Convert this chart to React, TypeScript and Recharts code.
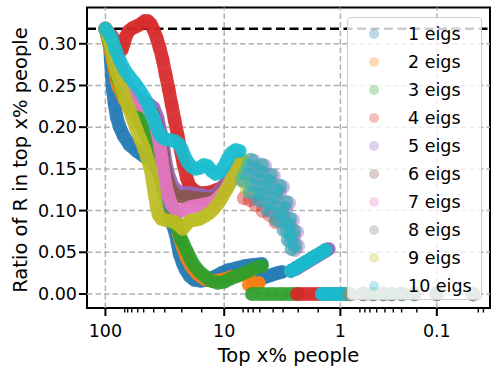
import React from 'react';
import { ScatterChart, Scatter, XAxis, YAxis, ReferenceLine, ReferenceArea } from 'recharts';

type Pt = [number, number]; // [top x% people, ratio of R]

const FONT = '"DejaVu Sans", Verdana, sans-serif';

// x axis: -log10(pct + X_SHIFT), matches the uneven decade spacing of the original
const X_SHIFT = 0.065;
const X_DOMAIN = [-2.155, 1.229];
const X_MAJOR = [100, 10, 1, 0.1];
const X_MAJOR_LABELS = ['100', '10', '1', '0.1'];
const X_MINOR = [
  68.8, 65, 60.1, 53.5, 47.7, 39.3, 31.7, 22.8, 15.5,
  6.92, 6.27, 5.69, 4.99, 3.84, 3.16, 2.34, 1.57,
  0.665, 0.598, 0.537, 0.463, 0.385, 0.318, 0.261, 0.178,
  0.009, 0.002,
];
const Y_DOMAIN = [-0.0168, 0.3435];
const Y_TICKS = [0, 0.05, 0.1, 0.15, 0.2, 0.25, 0.3];
const REF_RATIO = 0.318;

// 1 eigs
const BLUE_MAIN: Pt[] = [[100,0.318],[92.0,0.2986],[90.3,0.2806],[88.6,0.2626],[86.9,0.2446],[83.6,0.2266],[80.4,0.212],[75.9,0.2002],[70.2,0.1894],[62.5,0.1787],[54.6,0.1715],[47.7,0.1655],[41.6,0.1595],[37.1,0.151],[34.3,0.139],[32.4,0.1247],[30.5,0.109],[28.8,0.0947],[27.2,0.0827],[25.7,0.072],[24.7,0.06],[23.8,0.048],[22.4,0.0372],[21.1,0.0288],[19.6,0.0216],[17.8,0.0168],[15.8,0.0156],[13.8,0.0168],[12.1,0.0204],[10.5,0.0252],[9.2,0.0288],[7.8,0.0312],[6.7,0.0336],[5.72,0.0348],[4.8,0.036]];
const BLUE_LOW: Pt[] = [[5.61,0.0156],[4.99,0.018],[4.44,0.0204],[3.95,0.0228],[3.51,0.0252],[3.24,0.0264]];

// 2 eigs
const ORANGE_MAIN: Pt[] = [[100,0.318],[86.9,0.2806],[78.9,0.2506],[68.9,0.2326],[59.0,0.218],[50.5,0.2026],[44.1,0.187],[38.5,0.1727],[34.3,0.157],[31.1,0.1367],[28.2,0.1127],[26.2,0.0911],[24.2,0.072],[22.4,0.0564],[20.7,0.0432],[18.8,0.0324],[16.8,0.024],[14.6,0.018],[12.5,0.0156],[10.5,0.0168],[8.7,0.0204],[7.1,0.0228],[6.07,0.0252]];
const ORANGE_LOW: Pt[] = [[6.18,0.0108],[5.61,0.012],[5.09,0.0132]];

// 3 eigs
const GREEN_MAIN: Pt[] = [[100,0.318],[86.9,0.2866],[78.9,0.259],[70.2,0.2386],[62.5,0.2266],[55.7,0.218],[51.5,0.2086],[46.8,0.194],[42.5,0.181],[38.5,0.169],[35.0,0.157],[31.7,0.139],[28.8,0.1187],[26.7,0.098],[25.2,0.0815],[23.3,0.0671],[22.4,0.0624],[20.7,0.0516],[19.2,0.042],[17.8,0.0336],[16.1,0.0264],[14.3,0.0204],[12.8,0.0156],[11.35,0.0132],[10.0,0.0144],[9.0,0.018],[7.8,0.0216],[6.8,0.0252],[5.95,0.0288],[5.19,0.0324],[4.8,0.0336]];
const GREEN_ZERO: Pt[] = [[5.83,0],[4.8,0],[3.95,0],[3.24,0],[2.71,0],[2.36,0]];

// 4 eigs
const RED_MAIN: Pt[] = [[100,0.318],[88.6,0.3094],[82.0,0.302],[75.9,0.296],[73.0,0.2926],[70.2,0.2998],[67.6,0.308],[63.7,0.3153],[59.0,0.319],[54.6,0.321],[50.5,0.3237],[46.8,0.3273],[44.1,0.3273],[41.6,0.3237],[39.3,0.3165],[37.1,0.307],[35.0,0.295],[33.0,0.2806],[31.1,0.2626],[29.3,0.2446],[27.7,0.2266],[26.2,0.2086],[24.7,0.1906],[23.3,0.1727],[22.0,0.1547],[20.7,0.139],[19.6,0.1295],[18.1,0.1247],[16.45,0.121],[14.6,0.121],[13.05,0.1223],[11.6,0.1247],[10.3,0.1283],[9.2,0.1331],[8.35,0.1391],[7.7,0.1463]];
const RED_DOTS: Pt[] = [[6.8,0.115],[6.07,0.1127],[5.39,0.1067],[4.71,0.0995],[4.1,0.0947],[3.65,0.0863]];
const RED_ZERO: Pt[] = [[2.4,0],[2.09,0],[1.82,0],[1.58,0],[1.43,0]];

// 5 eigs
const PURPLE_MAIN: Pt[] = [[100,0.318],[86.9,0.2986],[78.9,0.2794],[70.2,0.2602],[62.5,0.2446],[55.7,0.235],[49.6,0.2314],[44.1,0.229],[39.3,0.223],[36.4,0.211],[34.3,0.194],[32.4,0.175],[31.1,0.157],[29.3,0.1415],[27.2,0.1295],[24.7,0.1235],[22.0,0.1211],[19.6,0.1211],[17.45,0.12],[15.5,0.1187],[13.8,0.117],[12.5,0.1175],[11.35,0.1211],[10.3,0.1283],[9.35,0.1367],[8.5,0.1463],[7.7,0.1547]];
const PURPLE_LADDER: Pt[] = [[6.7,0.1355],[6.3,0.1439],[5.95,0.1523],[5.61,0.1595],[5.72,0.1211],[5.39,0.1295],[5.09,0.1379],[4.8,0.1463],[4.52,0.1535],[4.8,0.1115],[4.52,0.1187],[4.27,0.1271],[4.02,0.1343],[3.8,0.1415],[4.02,0.0995],[3.8,0.1067],[3.58,0.1151],[3.37,0.1223],[3.17,0.1283],[3.37,0.0875],[3.17,0.0947],[2.99,0.1019],[2.82,0.1091],[2.93,0.0755],[2.76,0.0827],[2.6,0.0887],[2.71,0.0635],[2.55,0.0695],[2.4,0.0743],[2.5,0.0528],[2.36,0.0576]];
const PURPLE_LOW: Pt[] = [[2.45,0.03],[2.01,0.0372],[1.65,0.0444],[1.35,0.0516],[1.27,0.054]];

// 6 eigs
const BROWN_MAIN: Pt[] = [[100,0.318],[86.9,0.2974],[78.9,0.277],[70.2,0.2566],[62.5,0.241],[55.7,0.2314],[49.6,0.2278],[44.1,0.2242],[40.1,0.217],[37.1,0.2038],[35.0,0.187],[33.0,0.169],[31.7,0.151],[29.9,0.1355],[27.7,0.1235],[25.2,0.1175],[22.4,0.1163],[19.9,0.1163],[17.8,0.1151],[15.8,0.114],[14.1,0.114],[12.8,0.1127],[11.6,0.1163],[10.5,0.1223],[9.5,0.1307],[8.7,0.1403],[7.8,0.1499],[7.25,0.1583]];

// 7 eigs
const PINK_MAIN: Pt[] = [[100,0.318],[86.9,0.2986],[78.9,0.2782],[70.2,0.259],[62.5,0.2422],[56.8,0.2326],[51.5,0.2278],[46.8,0.2254],[42.5,0.2206],[39.3,0.211],[37.1,0.1966],[35.0,0.1799],[33.7,0.163],[32.4,0.1463],[31.1,0.1307],[29.3,0.1163],[27.7,0.1067],[25.7,0.1007],[23.3,0.0995],[21.1,0.1019],[19.2,0.1043],[17.45,0.1055],[15.8,0.1067],[14.3,0.1079],[13.05,0.109],[11.8,0.1127],[10.7,0.1187],[9.7,0.1259],[8.85,0.1367],[8.0,0.1439],[7.4,0.1547]];

// 9 eigs
const YELLOW_MAIN: Pt[] = [[100,0.318],[90.3,0.2986],[85.2,0.2806],[80.4,0.2662],[74.4,0.2506],[68.9,0.2362],[63.7,0.223],[59.0,0.2098],[54.6,0.1966],[50.5,0.1847],[46.8,0.1727],[44.1,0.1607],[41.6,0.1487],[40.1,0.1343],[38.5,0.1187],[37.1,0.1043],[35.7,0.0947],[33.7,0.09],[31.7,0.0887],[28.8,0.0875],[26.2,0.0863],[24.2,0.0827],[22.4,0.0779],[21.1,0.0827],[19.6,0.0875],[17.8,0.0887],[16.1,0.09],[14.6,0.0935],[13.3,0.0971],[12.3,0.1019],[11.35,0.1079],[10.5,0.1151],[9.7,0.1235],[9.0,0.1319],[8.35,0.1415],[7.7,0.151],[7.1,0.1607]];
const YELLOW_DOTS: Pt[] = [[6.8,0.1343],[6.43,0.1247]];

// 10 eigs (8 eigs shares its ladder and tail)
const CYAN_MAIN: Pt[] = [[100,0.318],[88.6,0.307],[82.0,0.2926],[75.9,0.2806],[68.9,0.2686],[62.5,0.2602],[56.8,0.253],[51.5,0.2446],[46.8,0.235],[43.3,0.2254],[40.8,0.2158],[38.5,0.2062],[36.4,0.1966],[34.3,0.1894],[31.7,0.1859],[28.8,0.1847],[26.2,0.1835],[24.2,0.1799],[22.8,0.1739],[21.6,0.1655],[20.3,0.158],[18.8,0.1523],[17.45,0.15],[16.1,0.151],[14.9,0.1547],[13.8,0.1535],[12.8,0.1475],[11.8,0.144],[10.9,0.146],[10.0,0.1535],[9.35,0.1619],[8.7,0.169],[8.0,0.1727],[7.4,0.1715]];
const CYAN_LADDER: Pt[] = [[7.1,0.1367],[6.7,0.145],[6.3,0.1535],[5.95,0.1607],[6.07,0.1223],[5.72,0.1307],[5.39,0.139],[5.09,0.1475],[4.8,0.1547],[5.09,0.1127],[4.8,0.12],[4.52,0.128],[4.27,0.1355],[4.02,0.1427],[4.27,0.1007],[4.02,0.108],[3.8,0.116],[3.58,0.1235],[3.37,0.1295],[3.58,0.0887],[3.37,0.096],[3.17,0.103],[2.99,0.11],[3.11,0.0767],[2.93,0.084],[2.76,0.09],[2.87,0.0647],[2.71,0.0707],[2.55,0.0755],[2.65,0.054],[2.5,0.0588]];
const CYAN_LOW: Pt[] = [[2.71,0.0276],[2.45,0.0312],[2.22,0.0348],[2.01,0.0384],[1.82,0.042],[1.65,0.0456],[1.49,0.049],[1.35,0.0528]];
const CYAN_ZERO: Pt[] = [[1.46,0],[1.32,0],[1.19,0],[1.07,0],[0.97,0],[0.9,0]];

// everyone ends at zero on the far right
const TAIL_ZERO: Pt[] = [[0.82,0],[0.62,0],[0.5,0],[0.4,0],[0.33,0],[0.26,0],[0.19,0],[0.1,0],[0.017,0]];

type Part = { pts: Pt[]; band: boolean };
const SERIES: { name: string; color: string; parts: Part[] }[] = [
  { name: '1 eigs', color: '#1f77b4', parts: [{ pts: BLUE_MAIN, band: true }, { pts: BLUE_LOW, band: true }] },
  { name: '2 eigs', color: '#ff7f0e', parts: [{ pts: ORANGE_MAIN, band: true }, { pts: ORANGE_LOW, band: true }] },
  { name: '3 eigs', color: '#2ca02c', parts: [{ pts: GREEN_MAIN, band: true }, { pts: GREEN_ZERO, band: true }] },
  { name: '4 eigs', color: '#d62728', parts: [{ pts: RED_MAIN, band: true }, { pts: RED_DOTS, band: false }, { pts: RED_ZERO, band: true }] },
  { name: '5 eigs', color: '#9467bd', parts: [{ pts: PURPLE_MAIN, band: true }, { pts: PURPLE_LADDER, band: false }, { pts: PURPLE_LOW, band: true }] },
  { name: '6 eigs', color: '#8c564b', parts: [{ pts: BROWN_MAIN, band: true }] },
  { name: '7 eigs', color: '#e377c2', parts: [{ pts: PINK_MAIN, band: true }] },
  { name: '8 eigs', color: '#7f7f7f', parts: [{ pts: CYAN_LADDER, band: false }, { pts: CYAN_LOW, band: true }, { pts: CYAN_ZERO, band: true }] },
  { name: '9 eigs', color: '#bcbd22', parts: [{ pts: YELLOW_MAIN, band: true }, { pts: YELLOW_DOTS, band: false }] },
  { name: '10 eigs', color: '#17becf', parts: [{ pts: CYAN_MAIN, band: true }, { pts: CYAN_LADDER, band: false }, { pts: CYAN_LOW, band: true }, { pts: CYAN_ZERO, band: true }] },
];

const R = 7.2;
const toU = (pct: number) => -Math.log10(pct + X_SHIFT);
const toPoints = (pts: Pt[]) => pts.map(([pct, ratio]) => ({ u: toU(pct), y: ratio }));
const X_TICKS = [...X_MAJOR, ...X_MINOR].map(toU);

const XTick = (props: any) => {
  const { x, y, payload } = props;
  const idx = X_MAJOR.findIndex((p) => Math.abs(toU(p) - payload.value) < 1e-9);
  const major = idx >= 0;
  return (
    <g>
      <line x1={x} x2={x} y1={y} y2={y + (major ? 8 : 4.5)} stroke="#000" strokeWidth={major ? 2 : 1.4} />
      {major && (
        <text x={x} y={y + 29} textAnchor="middle" fontSize={17.5} fontFamily={FONT} fill="#000">
          {X_MAJOR_LABELS[idx]}
        </text>
      )}
    </g>
  );
};

const GRID = { stroke: '#b0b0b0', strokeWidth: 1.5, strokeDasharray: '5.5 3' };

export default function App() {
  return (
    <div style={{ position: 'absolute', left: 0, top: 0, width: 499, height: 373, background: '#fff', fontFamily: FONT }}>
      <ScatterChart width={499} height={373} margin={{ top: 7.5, right: 9, bottom: 15, left: 27 }}>
        <XAxis
          type="number"
          dataKey="u"
          domain={X_DOMAIN}
          allowDataOverflow
          ticks={X_TICKS}
          interval={0}
          tick={<XTick />}
          tickLine={false}
          axisLine={false}
          tickSize={0}
          tickMargin={0}
          height={50}
        />
        <YAxis
          type="number"
          dataKey="y"
          domain={Y_DOMAIN}
          allowDataOverflow
          ticks={Y_TICKS}
          interval={0}
          width={60}
          tickFormatter={(v: number) => v.toFixed(2)}
          tick={{ fontSize: 17.5, fill: '#000', fontFamily: FONT }}
          tickLine={{ stroke: '#000', strokeWidth: 2 }}
          tickSize={8}
          tickMargin={2}
          axisLine={false}
        />
        {SERIES.map((s, i) =>
          s.parts.map((part, j) => (
            <Scatter
              key={`${i}-${j}`}
              data={toPoints(part.pts)}
              fill={s.color}
              isAnimationActive={false}
              line={
                part.band
                  ? { stroke: s.color, strokeWidth: 2 * R - 1, strokeOpacity: 0.9, strokeLinecap: 'round', strokeLinejoin: 'round' }
                  : false
              }
              shape={(p: any) => (
                <circle cx={p.cx} cy={p.cy} r={R} fill={s.color} fillOpacity={part.band ? 0.3 : 0.45} />
              )}
            />
          ))
        )}
        {SERIES.map((s, i) => (
          <Scatter
            key={`tail-${i}`}
            data={toPoints(TAIL_ZERO)}
            fill={s.color}
            isAnimationActive={false}
            shape={(p: any) => <circle cx={p.cx} cy={p.cy} r={R} fill={s.color} fillOpacity={0.3} />}
          />
        ))}
        {Y_TICKS.map((v) => (
          <ReferenceLine key={`gy-${v}`} y={v} {...GRID} />
        ))}
        {X_MAJOR.map((p) => (
          <ReferenceLine key={`gx-${p}`} x={toU(p)} {...GRID} />
        ))}
        <ReferenceLine y={REF_RATIO} stroke="#000" strokeWidth={2.5} strokeDasharray="9 4.5" />
        <ReferenceArea
          x1={X_DOMAIN[0]}
          x2={X_DOMAIN[1]}
          y1={Y_DOMAIN[0]}
          y2={Y_DOMAIN[1]}
          fill="none"
          stroke="#000"
          strokeWidth={2}
          ifOverflow="visible"
        />
      </ScatterChart>

      <div
        style={{
          position: 'absolute',
          left: 20,
          top: 160,
          transform: 'translate(-50%, -50%) rotate(-90deg)',
          fontSize: 19.5,
          whiteSpace: 'nowrap',
          color: '#000',
        }}
      >
        Ratio of R in top x% people
      </div>
      <div
        style={{
          position: 'absolute',
          left: 288.5,
          top: 355,
          transform: 'translate(-50%, -50%)',
          fontSize: 19.5,
          whiteSpace: 'nowrap',
          color: '#000',
        }}
      >
        Top x% people
      </div>

      {/* legend, upper right, semi-transparent like matplotlib's */}
      <div
        style={{
          position: 'absolute',
          left: 347,
          top: 17,
          width: 135,
          height: 283,
          boxSizing: 'border-box',
          border: '1px solid #cccccc',
          borderRadius: 4,
          background: 'rgba(255,255,255,0.8)',
        }}
      >
        {SERIES.map((s, i) => (
          <div
            key={s.name}
            style={{ position: 'absolute', left: 0, top: 2 + 28 * i, height: 28, width: '100%', display: 'flex', alignItems: 'center' }}
          >
            <svg width={12} height={12} style={{ position: 'absolute', left: 20 }}>
              <circle cx={6} cy={6} r={5} fill={s.color} fillOpacity={0.3} />
            </svg>
            <span style={{ position: 'absolute', left: 60, fontSize: 17.5, lineHeight: '28px', color: '#000' }}>{s.name}</span>
          </div>
        ))}
      </div>
    </div>
  );
}
